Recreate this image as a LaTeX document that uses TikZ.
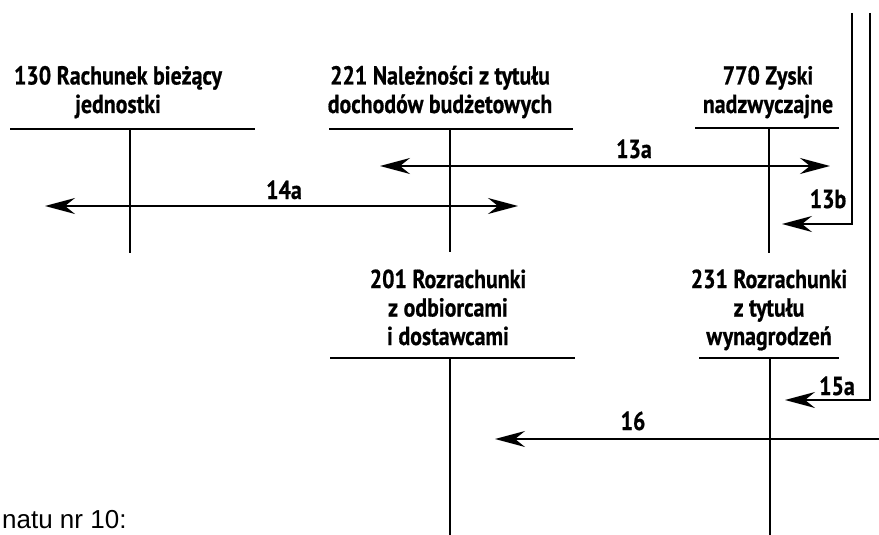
\documentclass[tikz,border=0pt]{standalone}
\usepackage{fontspec}
\setmainfont{Liberation Sans}
\newfontfamily\diagfont[FakeStretch=0.84,FakeBold=0.6]{PT Sans Bold}
\usetikzlibrary{arrows.meta}
\begin{document}
\begin{tikzpicture}[x=1pt,y=-1pt,
  tline/.style={line width=1.5pt},
  conn/.style={line width=1.5pt,-{Stealth[length=30pt,width=16pt,inset=10pt]}},
  dconn/.style={line width=1.5pt,{Stealth[length=30pt,width=16pt,inset=10pt]}-{Stealth[length=30pt,width=16pt,inset=10pt]}},
  title/.style={font=\diagfont\fontsize{26}{28.5}\selectfont,align=center,inner sep=0pt,anchor=base},
  lbl/.style={font=\diagfont\fontsize{26}{28}\selectfont,inner sep=0pt,anchor=base}]
\useasboundingbox (0,0) rectangle (879,535);
% titles (anchor = baseline of the last line)
\node[title] (t130) at (118,113) {130 Rachunek bieżący\\jednostki};
\node[title] (t221) at (440,113) {221 Należności z tytułu\\dochodów budżetowych};
\node[title] (t770) at (768,113) {770 Zyski\\nadzwyczajne};
\node[title] (t201) at (448,345) {201 Rozrachunki\\z odbiorcami\\i dostawcami};
\node[title] (t231) at (769,345) {231 Rozrachunki\\z tytułu\\wynagrodzeń};
% T accounts
\coordinate (a130l) at (10,129); \coordinate (a130r) at (255,129);
\coordinate (a130t) at (130,129); \coordinate (a130b) at (130,253);
\coordinate (a221l) at (329,129); \coordinate (a221r) at (573,129);
\coordinate (a221t) at (450,129); \coordinate (a221b) at (450,252);
\coordinate (a770l) at (695,128); \coordinate (a770r) at (839,128);
\coordinate (a770t) at (769,128); \coordinate (a770b) at (769,253);
\coordinate (a201l) at (330,358); \coordinate (a201r) at (575,358);
\coordinate (a201t) at (450,358); \coordinate (a201b) at (450,535);
\coordinate (a231l) at (699,358); \coordinate (a231r) at (839,358);
\coordinate (a231t) at (770,358); \coordinate (a231b) at (770,535);
\foreach \a in {130,221,770,201,231}{
  \draw[tline] (a\a l) -- (a\a r);
  \draw[tline] (a\a t) -- (a\a b);
}
% connectors
\coordinate (c13aL) at (380,166); \coordinate (c13aR) at (830,166);
\draw[dconn] (c13aL) -- (c13aR);
\coordinate (c14aL) at (45,206); \coordinate (c14aR) at (518,206);
\draw[dconn] (c14aL) -- (c14aR);
\coordinate (c13bS) at (852,13); \coordinate (c13bE) at (782,224);
\draw[conn] (c13bS) |- (c13bE);
\coordinate (c15aS) at (870,13); \coordinate (c15aE) at (785,400);
\draw[conn] (c15aS) |- (c15aE);
\coordinate (c16S) at (880,439); \coordinate (c16E) at (495,439);
\draw[conn] (c16S) -- (c16E);
% labels
\node[lbl] (l13a) at (634,158) {13a};
\node[lbl] (l14a) at (284,199) {14a};
\node[lbl] (l13b) at (828,208) {13b};
\node[lbl] (l15a) at (837,395) {15a};
\node[lbl] (l16) at (633,430) {16};
% text at the bottom edge
\node[font=\fontsize{26}{30}\selectfont,anchor=base west,inner sep=0pt] (note) at (2,528) {natu nr 10:};
\end{tikzpicture}
\end{document}
